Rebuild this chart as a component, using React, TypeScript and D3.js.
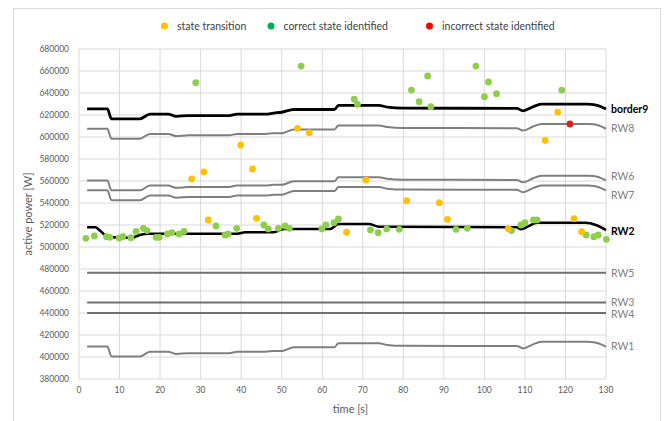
import React from "react";
import * as d3 from "d3";

// time axis shared by the profile lines [s]
const lineTimes = [2, 7, 8, 15, 17.5, 22, 24, 27, 37, 39, 46, 48, 50, 53, 63, 64, 74, 76, 80, 108, 109.5, 112, 114, 125.5, 127, 130];

const border9 = [625500, 625500, 616500, 616500, 620800, 620800, 618800, 619500, 619500, 620800, 620800, 621800, 622500, 625000, 625000, 628800, 628800, 627200, 626300, 626000, 623800, 627500, 629800, 629800, 629500, 625500];
const rw8 = [607500, 607500, 598500, 598500, 602800, 602800, 600800, 601500, 601500, 602800, 602800, 603500, 603500, 606800, 606800, 610500, 610500, 609000, 608200, 608000, 605800, 609500, 611800, 611800, 611500, 607500];
const rw6 = [560500, 560500, 551500, 551500, 555800, 555800, 553800, 554500, 554500, 555800, 555800, 556500, 556500, 559800, 559800, 563500, 563500, 562000, 561200, 561000, 558800, 562500, 564800, 564800, 564500, 560500];
const rw7 = [551500, 551500, 542500, 542500, 546800, 546800, 544800, 545500, 545500, 546800, 546800, 547500, 547500, 550800, 550800, 554500, 554500, 553000, 552200, 552000, 549800, 553500, 555800, 555800, 555500, 551500];
const rw1 = [409500, 409500, 400500, 400500, 404800, 404800, 402800, 403500, 403500, 404800, 404800, 405500, 405500, 408800, 408800, 412500, 412500, 411000, 410200, 410000, 407800, 411500, 413800, 413800, 413500, 409500];

const rw2Times = [2, 4, 5, 6.5, 7.5, 13, 15, 17, 39, 41, 48, 50.5, 62, 64, 71.5, 74, 108, 109, 113, 125, 127.5, 130];
const rw2 = [518000, 518000, 515500, 510500, 508800, 508500, 510900, 512000, 512000, 513400, 513400, 516400, 516400, 520900, 520900, 518500, 518000, 516100, 522100, 522100, 520000, 515400];

const flatTimes = [2, 130];
const rw5 = [476500, 476500];
const rw3 = [449500, 449500];
const rw4 = [440000, 440000];

// state transitions (orange)
const transitionT = [27.8, 30.8, 31.9, 39.9, 42.8, 43.8, 53.9, 56.8, 66, 70.8, 80.8, 88.9, 90.9, 105.9, 115, 118.1, 122.1, 124];
const transitionP = [562000, 568200, 524600, 592700, 570900, 526100, 607900, 603900, 513400, 560900, 542100, 540300, 525200, 516700, 597000, 622700, 525800, 513900];

// correct state identified (green)
const correctT = [1.7, 3.8, 6.8, 7.6, 9.9, 10.8, 12.8, 14.1, 15.9, 16.8, 19, 19.8, 21.8, 22.9, 24.7, 25.9, 28.8, 33.8, 36, 36.8, 38.9, 45.6, 46.7, 49.2, 50.8, 51.9, 54.8, 59.9, 60.9, 62.9, 64, 67.9, 68.7, 71.9, 73.8, 75.9, 79, 82, 83.9, 86, 86.8, 93, 95.8, 97.9, 100, 101, 103, 106.7, 109, 110, 112.1, 113, 119.1, 125.1, 127, 128.1, 130.1];
const correctP = [507900, 510000, 509400, 508800, 508200, 509400, 508500, 514200, 517000, 514900, 508800, 508800, 511800, 513000, 511800, 514200, 649400, 519100, 510900, 511800, 517000, 520000, 516400, 517000, 519100, 517000, 664500, 516400, 520000, 522100, 525500, 634300, 629700, 515500, 513000, 516400, 516100, 642700, 632100, 655500, 627600, 516100, 517000, 664500, 636600, 650000, 639400, 514900, 520000, 522100, 524600, 524600, 642700, 510900, 509400, 510900, 507000];

// incorrect state identified (red)
const incorrectT = [121.1];
const incorrectP = [611800];

const xTicks = d3.range(0, 131, 10);
const yTicks = d3.range(380000, 680001, 20000);

const legendItems = [
  { name: "state transition", color: "#FFC000", x: 164.5 },
  { name: "correct state identified", color: "#00B050", x: 271 },
  { name: "incorrect state identified", color: "#FF0000", x: 429.5 },
];

const W = 668;
const H = 421;
const margin = { left: 79, right: 62, top: 49, bottom: 42 };

const font = "Lato, 'Open Sans', sans-serif";

export default function App() {
  const x = d3.scaleLinear().domain([0, 130]).range([margin.left, W - margin.right]);
  const y = d3.scaleLinear().domain([380000, 680000]).range([H - margin.bottom, margin.top]);

  // smooth the steps a little, like the original export
  const line = (ts: number[], vs: number[]) =>
    d3.line<number>().x((_, i) => x(ts[i])).y((v) => y(v)).curve(d3.curveMonotoneX)(vs) || "";

  const series = [
    { name: "RW1", t: lineTimes, v: rw1, color: "#7f7f7f", width: 2, bold: false, dy: 0 },
    { name: "RW4", t: flatTimes, v: rw4, color: "#6f6f6f", width: 2, bold: false, dy: 1 },
    { name: "RW3", t: flatTimes, v: rw3, color: "#6f6f6f", width: 2, bold: false, dy: 0 },
    { name: "RW5", t: flatTimes, v: rw5, color: "#6f6f6f", width: 2, bold: false, dy: 0 },
    { name: "RW7", t: lineTimes, v: rw7, color: "#7f7f7f", width: 2, bold: false, dy: 4.5 },
    { name: "RW6", t: lineTimes, v: rw6, color: "#7f7f7f", width: 2, bold: false, dy: -4.5 },
    { name: "RW8", t: lineTimes, v: rw8, color: "#7f7f7f", width: 2, bold: false, dy: 0 },
    { name: "RW2", t: rw2Times, v: rw2, color: "#000000", width: 2.5, bold: true, dy: 1 },
    { name: "border9", t: lineTimes, v: border9, color: "#000000", width: 2.8, bold: true, dy: 0.5 },
  ];

  const dots = [
    { t: correctT, p: correctP, color: "#8FCE4A" },
    { t: transitionT, p: transitionP, color: "#FFC000" },
    { t: incorrectT, p: incorrectP, color: "#E0201B" },
  ];

  return (
    <div style={{ position: "absolute", left: 0, top: 0 }}>
      <svg width={W} height={H} style={{ display: "block", background: "#fff" }}>
        <rect x={13.5} y={8.5} width={647} height={420} fill="#fff" stroke="#d9d9d9" />

        {/* legend */}
        {legendItems.map((d) => (
          <g key={d.name}>
            <circle cx={d.x} cy={26} r={3.5} fill={d.color} />
            <text x={d.x + 12.5} y={26} dy="0.35em" fontSize={10.5} fill="#404040" fontFamily={font}>
              {d.name}
            </text>
          </g>
        ))}

        {/* grid */}
        {yTicks.map((v) => (
          <line key={"gy" + v} x1={x(0)} x2={x(130)} y1={y(v)} y2={y(v)} stroke="#d9d9d9" strokeWidth={1} />
        ))}
        {xTicks.map((t) => (
          <line key={"gx" + t} x1={x(t)} x2={x(t)} y1={y(380000)} y2={y(680000)} stroke="#d9d9d9" strokeWidth={1} />
        ))}

        {/* tick labels */}
        {yTicks.map((v) => (
          <text key={"ty" + v} x={x(0) - 10} y={y(v)} dy="0.35em" textAnchor="end" fontSize={8.5} fill="#595959" fontFamily={font}>
            {v}
          </text>
        ))}
        {xTicks.map((t) => (
          <text key={"tx" + t} x={x(t)} y={y(380000) + 14} textAnchor="middle" fontSize={8.5} fill="#595959" fontFamily={font}>
            {t}
          </text>
        ))}

        {/* axis titles */}
        <text
          transform={`translate(28, ${(y(380000) + y(680000)) / 2}) rotate(-90)`}
          textAnchor="middle"
          dy="0.35em"
          fontSize={11}
          fill="#595959"
          fontFamily={font}
        >
          active power [W]
        </text>
        <text x={(x(0) + x(130)) / 2 + 8} y={413} textAnchor="middle" fontSize={11} fill="#595959" fontFamily={font}>
          time [s]
        </text>

        {/* profile lines */}
        {series.map((s) => (
          <path key={s.name} d={line(s.t, s.v)} fill="none" stroke={s.color} strokeWidth={s.width} strokeLinejoin="round" />
        ))}

        {/* series labels */}
        {series.map((s) => (
          <text
            key={"l" + s.name}
            x={x(130) + 5}
            y={y(s.v[s.v.length - 1]) + s.dy}
            dy="0.35em"
            fontSize={10.5}
            fontWeight={s.bold ? "bold" : "normal"}
            fill={s.bold ? "#000" : "#808080"}
            fontFamily={font}
          >
            {s.name}
          </text>
        ))}

        {/* state markers */}
        {dots.map((g, gi) =>
          g.t.map((t, i) => <circle key={gi + "-" + i} cx={x(t)} cy={y(g.p[i])} r={3.4} fill={g.color} />)
        )}
      </svg>
    </div>
  );
}
